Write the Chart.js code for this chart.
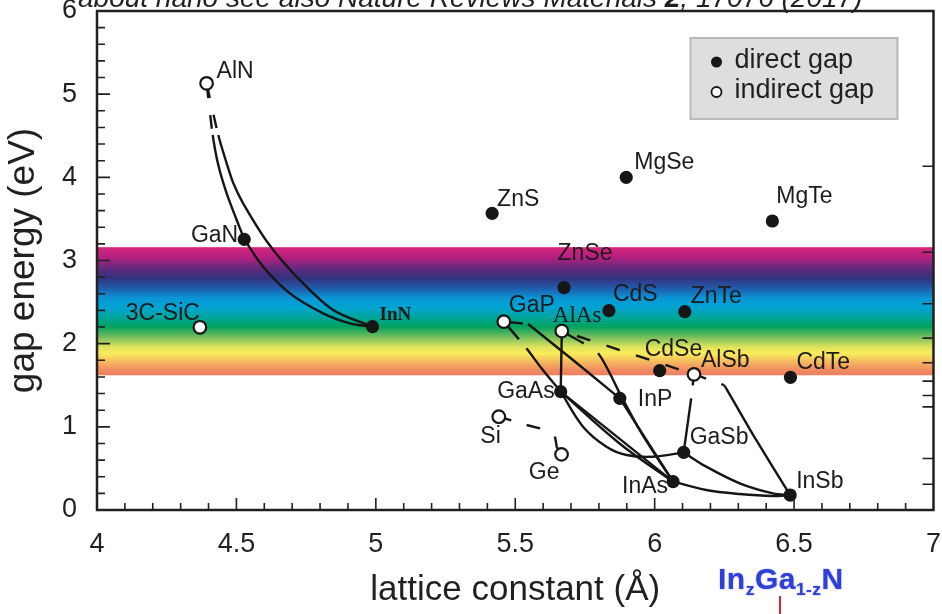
<!DOCTYPE html>
<html>
<head>
<meta charset="utf-8">
<title>Band gap versus lattice constant</title>
<script src="https://cdn.jsdelivr.net/npm/chart.js@4/dist/chart.umd.min.js"></script>
<style>
  html, body { margin: 0; padding: 0; background: #ffffff; }
  #wrap { position: relative; width: 942px; height: 614px; overflow: hidden; }
  #plot { display: block; }
  #note {
    position: absolute; left: 78px; top: -18px; line-height: 28px;
    font: italic 28px "Liberation Sans", Arial, sans-serif; color: #231f20; white-space: nowrap;
  }
  #alloy {
    position: absolute; left: 718px; top: 562px; line-height: 30px; letter-spacing: 0.5px;
    font: bold 30px "Liberation Sans", Arial, sans-serif; color: #2f3fd8; white-space: nowrap;
    text-shadow: 0 0 1.5px rgba(47, 63, 216, 0.7);
  }
  #alloy sub { font-size: 58%; vertical-align: -0.35em; line-height: 0; }
  #arrow {
    position: absolute; left: 779px; top: 596px; width: 2px; height: 22px; background: #e3262b;
  }
</style>
</head>
<body>
<div id="wrap">
  <canvas id="plot" width="942" height="614"></canvas>
  <div id="note">about nano see also Nature Reviews Materials <b>2</b>, 17076 (2017)</div>
  <div id="alloy">In<sub>z</sub>Ga<sub>1-z</sub>N</div>
  <div id="arrow"></div>
</div>
<script>
// ---- binary compounds: lattice constant (Å) and band gap (eV) ----
const compounds = ['AlN', 'GaN', 'InN', '3C-SiC', 'ZnS', 'MgSe', 'MgTe', 'ZnSe', 'CdS', 'ZnTe',
  'GaP', 'AlAs', 'CdSe', 'AlSb', 'CdTe', 'GaAs', 'InP', 'Si', 'Ge', 'GaSb', 'InAs', 'InSb'];
const latticeA = [4.393, 4.528, 4.988, 4.369, 5.417, 5.898, 6.422, 5.675, 5.836, 6.108,
  5.459, 5.667, 6.018, 6.141, 6.487, 5.663, 5.875, 5.441, 5.666, 6.104, 6.066, 6.486];
const gapEV = [5.13, 3.255, 2.204, 2.197, 3.567, 4.00, 3.475, 2.673, 2.397, 2.385,
  2.265, 2.152, 1.675, 1.631, 1.595, 1.423, 1.343, 1.122, 0.669, 0.693, 0.341, 0.180];
const directGap = [false, true, true, false, true, true, true, true, true, true,
  false, false, true, false, true, true, true, false, false, true, true, true];

// visible light window shown as the spectrum band (eV)
const visibleTopEV = 3.16;
const visibleBottomEV = 1.62;
// wavelength marks on the right-hand axis (nm)
const wavelengthTicksNm = [300, 400, 500, 600, 700, 800, 900, 1000, 2000, 4000];

// ---- ternary alloy curves (lattice constant, gap) ----
const alnGanA = [4.393, 4.415, 4.435, 4.465, 4.501, 4.528];
const alnGanE = [5.13, 4.509, 4.148, 3.808, 3.487, 3.255];
const alnInnA = [4.393, 4.435, 4.465, 4.489, 4.524, 4.614, 4.716, 4.847, 4.988];
const alnInnE = [5.13, 4.509, 4.169, 3.928, 3.688, 3.207, 2.805, 2.405, 2.204];
const ganInnA = [4.528, 4.596, 4.692, 4.811, 4.907, 4.988];
const ganInnE = [3.255, 2.925, 2.605, 2.365, 2.245, 2.204];
const gapInpA = [5.459, 5.546, 5.707, 5.875];
const gapInpE = [2.265, 2.236, 1.804, 1.343];
const gapGaasA = [5.459, 5.540, 5.594, 5.663];
const gapGaasE = [2.265, 1.944, 1.704, 1.423];
const gaasGasbA = [5.663, 5.743, 5.827, 5.899, 5.994, 6.104];
const gaasGasbE = [1.423, 1.002, 0.761, 0.661, 0.641, 0.693];
const alasGaasA = [5.667, 5.663];
const alasGaasE = [2.152, 1.423];
const alasAlsbA = [5.667, 6.141];
const alasAlsbE = [2.152, 1.631];
const alasInasA = [5.667, 5.797, 5.881, 5.946, 6.006, 6.066];
const alasInasE = [2.152, 1.884, 1.362, 0.962, 0.641, 0.341];
const inpInasA = [5.875, 6.066];
const inpInasE = [1.343, 0.341];
const gaasInasA = [5.663, 6.066];
const gaasInasE = [1.423, 0.341];
const gaasInas2A = [5.663, 5.874, 6.066];
const gaasInas2E = [1.423, 0.80, 0.341];
const inasInsbA = [6.066, 6.185, 6.305, 6.424, 6.486];
const inasInsbE = [0.341, 0.240, 0.192, 0.168, 0.180];
const gasbInsbA = [6.104, 6.185, 6.305, 6.424, 6.486];
const gasbInsbE = [0.693, 0.521, 0.321, 0.200, 0.180];
const alsbInsbA = [6.141, 6.248, 6.262, 6.364, 6.486];
const alsbInsbE = [1.631, 1.500, 1.430, 0.842, 0.180];
const alsbGasbA = [6.141, 6.131, 6.104];
const alsbGasbE = [1.631, 1.343, 0.693];
const siGeA = [5.441, 5.541, 5.588, 5.642, 5.649, 5.666];
const siGeE = [1.122, 1.022, 0.982, 0.890, 0.757, 0.669];

// ---- styling ----
const INK = '#231f20';
const CURVE = '#161616';
const FONT = '"Liberation Sans", Arial, sans-serif';

// line style per curve: spline tension, dash of the first (indirect) stretch, whole-line dash
const curves = [
  { a: alnGanA, e: alnGanE, tension: 0.3, head: [15, 17, 13.5, 20] },
  { a: alnInnA, e: alnInnE, tension: 0.3, head: [15, 17, 13.5, 20] },
  { a: ganInnA, e: ganInnE, tension: 0.35 },
  { a: gapInpA, e: gapInpE, tension: 0, head: [19, 8] },
  { a: gapGaasA, e: gapGaasE, tension: 0.3, head: [23, 14] },
  { a: gaasGasbA, e: gaasGasbE, tension: 0.35 },
  { a: alasGaasA, e: alasGaasE, tension: 0 },
  { a: alasAlsbA, e: alasAlsbE, tension: 0, dash: [14, 17], dashOffset: 15 },
  { a: alasInasA, e: alasInasE, tension: 0.2, head: [25, 20] },
  { a: inpInasA, e: inpInasE, tension: 0 },
  { a: gaasInasA, e: gaasInasE, tension: 0 },
  { a: gaasInas2A, e: gaasInas2E, tension: 0.4 },
  { a: inasInsbA, e: inasInsbE, tension: 0.35 },
  { a: gasbInsbA, e: gasbInsbE, tension: 0.35 },
  { a: alsbInsbA, e: alsbInsbE, tension: 0.2, head: [13, 16, 5, 10] },
  { a: alsbGasbA, e: alsbGasbE, tension: 0, head: [11, 14] },
  { a: siGeA, e: siGeE, tension: 0, dash: [13, 16, 14, 17, 40] }
];

// label placement relative to each marker (px)
const SANS = '23px ' + FONT;
const labelStyle = {
  'AlN':    { dx: 10, dy: -12, align: 'left' },
  'GaN':    { dx: -6, dy: -4, align: 'right' },
  'InN':    { dx: 7, dy: -12, align: 'left', font: 'bold 19px "Liberation Serif", "Times New Roman", serif' },
  '3C-SiC': { dx: 0, dy: -14, align: 'right' },
  'ZnS':    { dx: 5, dy: -14, align: 'left' },
  'MgSe':   { dx: 8, dy: -15, align: 'left' },
  'MgTe':   { dx: 4, dy: -24, align: 'left' },
  'ZnSe':   { dx: 21, dy: -34, align: 'center' },
  'CdS':    { dx: 4, dy: -16, align: 'left' },
  'ZnTe':   { dx: 6, dy: -15, align: 'left' },
  'GaP':    { dx: 5, dy: -16, align: 'left' },
  'AlAs':   { dx: -9, dy: -15, align: 'left', font: '23px "Liberation Serif", "Times New Roman", serif' },
  'CdSe':   { dx: -15, dy: -21, align: 'left' },
  'AlSb':   { dx: 7, dy: -14, align: 'left' },
  'CdTe':   { dx: 6, dy: -15, align: 'left' },
  'GaAs':   { dx: -6, dy: 0, align: 'right' },
  'InP':    { dx: 18, dy: 1, align: 'left' },
  'Si':     { dx: 2, dy: 20, align: 'right' },
  'Ge':     { dx: -2, dy: 18, align: 'right' },
  'GaSb':   { dx: 6, dy: -15, align: 'left' },
  'InAs':   { dx: -5, dy: 5, align: 'right' },
  'InSb':   { dx: 6, dy: -13, align: 'left' }
};

const toPoints = (a, e) => a.map((v, i) => ({ x: v, y: e[i] }));
const pick = (flag) => compounds.map((_, i) => i).filter(i => directGap[i] === flag)
  .map(i => ({ x: latticeA[i], y: gapEV[i] }));

// spectrum band behind the data
const spectrumBand = {
  id: 'spectrumBand',
  beforeDatasetsDraw(chart) {
    const { ctx, chartArea: ca, scales: { y } } = chart;
    const top = y.getPixelForValue(visibleTopEV);
    const bottom = y.getPixelForValue(visibleBottomEV);
    const g = ctx.createLinearGradient(0, top, 0, bottom);
    [[0.00, '#d6257c'], [0.08, '#b42080'], [0.17, '#5e2b7e'], [0.24, '#35307e'],
     [0.32, '#1f5cab'], [0.40, '#0a96d6'], [0.47, '#00a4d2'], [0.55, '#00a59a'],
     [0.62, '#00a25f'], [0.70, '#74bd5c'], [0.78, '#dfe35c'], [0.83, '#f8ec5b'],
     [0.90, '#f5b45f'], [0.96, '#f08b62'], [1.00, '#ee7d61']]
      .forEach(([o, c]) => g.addColorStop(o, c));
    ctx.save();
    ctx.fillStyle = g;
    ctx.fillRect(ca.left, top, ca.right - ca.left, bottom - top);
    ctx.restore();
  }
};

// compound names next to their markers
const pointLabels = {
  id: 'pointLabels',
  afterDatasetsDraw(chart) {
    const { ctx, scales: { x, y } } = chart;
    ctx.save();
    ctx.fillStyle = '#1d1b1b';
    ctx.textBaseline = 'middle';
    compounds.forEach((name, i) => {
      const s = labelStyle[name];
      ctx.font = s.font || SANS;
      ctx.textAlign = s.align;
      ctx.fillText(name, x.getPixelForValue(latticeA[i]) + s.dx, y.getPixelForValue(gapEV[i]) + s.dy);
    });
    ctx.restore();
  }
};

// boxed frame with inward ticks; right side carries wavelength marks
const frameTicks = {
  id: 'frameTicks',
  afterDatasetsDraw(chart) {
    const { ctx, chartArea: ca, scales: { x, y } } = chart;
    ctx.save();
    ctx.strokeStyle = INK;
    ctx.lineWidth = 1.6;
    ctx.beginPath();
    for (let i = 41; i < 70; i++) {
      const px = x.getPixelForValue(i / 10);
      const len = i % 5 === 0 ? 12 : 7;
      ctx.moveTo(px, ca.bottom); ctx.lineTo(px, ca.bottom - len);
    }
    for (let i = 1; i < 30; i++) {
      const py = y.getPixelForValue(i / 5);
      const len = i % 5 === 0 ? 13 : 8;
      ctx.moveTo(ca.left, py); ctx.lineTo(ca.left + len, py);
    }
    wavelengthTicksNm.forEach(nm => {
      const py = y.getPixelForValue(1239.84 / nm);
      ctx.moveTo(ca.right, py); ctx.lineTo(ca.right - 11, py);
    });
    ctx.stroke();
    ctx.lineWidth = 2.5;
    ctx.strokeRect(ca.left, ca.top, ca.right - ca.left, ca.bottom - ca.top);
    ctx.restore();
  }
};

// grey legend box in the upper right of the plot
const gapLegend = {
  id: 'gapLegend',
  afterDraw(chart) {
    const { ctx, chartArea: ca } = chart;
    const left = ca.right - 243, top = ca.top + 27, w = 207, h = 81;
    ctx.save();
    ctx.fillStyle = '#dedede';
    ctx.strokeStyle = '#b9b9b9';
    ctx.lineWidth = 2;
    ctx.fillRect(left, top, w, h);
    ctx.strokeRect(left, top, w, h);
    const rows = [{ text: 'direct gap', filled: true, dy: 24 }, { text: 'indirect gap', filled: false, dy: 54 }];
    rows.forEach(r => {
      ctx.beginPath();
      ctx.arc(left + 26, top + r.dy, r.filled ? 5.5 : 5, 0, Math.PI * 2);
      ctx.fillStyle = r.filled ? CURVE : '#ffffff';
      ctx.fill();
      if (!r.filled) { ctx.lineWidth = 1.8; ctx.strokeStyle = CURVE; ctx.stroke(); }
      ctx.fillStyle = INK;
      ctx.font = '27px ' + FONT;
      ctx.textAlign = 'left';
      ctx.textBaseline = 'middle';
      ctx.fillText(r.text, left + 44, top + r.dy - 1);
    });
    ctx.restore();
  }
};

const datasets = [
  { label: 'direct gap', data: pick(true), showLine: false, pointRadius: 6.6,
    pointBackgroundColor: CURVE, pointBorderColor: CURVE, pointBorderWidth: 0 },
  { label: 'indirect gap', data: pick(false), showLine: false, pointRadius: 6.3,
    pointBackgroundColor: '#ffffff', pointBorderColor: CURVE, pointBorderWidth: 2.2 }
].concat(curves.map(c => ({
  data: toPoints(c.a, c.e),
  showLine: true, pointRadius: 0, borderColor: CURVE, borderWidth: 2.4,
  tension: c.tension, borderDash: c.dash || [], borderDashOffset: c.dashOffset || 0,
  borderCapStyle: 'butt',
  segment: c.head ? { borderDash: ctx => (ctx.p0DataIndex === 0 ? c.head : undefined) } : {}
})));

new Chart(document.getElementById('plot'), {
  type: 'scatter',
  data: { datasets },
  options: {
    responsive: false,
    animation: false,
    events: [],
    layout: { padding: { top: 11, right: 8, left: 0, bottom: 0 } },
    plugins: { legend: { display: false }, tooltip: { enabled: false } },
    scales: {
      x: {
        type: 'linear', min: 4, max: 7,
        ticks: { stepSize: 0.5, padding: 18, color: INK, callback: v => String(v),
          font: { family: FONT, size: 27 } },
        grid: { display: false, drawTicks: false },
        border: { display: false },
        title: { display: true, text: 'lattice constant (Å)', color: INK, padding: { top: 0, bottom: 3 },
          font: { family: FONT, size: 35 } },
        afterFit: s => { s.height = 104; s.paddingLeft = 0; s.paddingRight = 0; }
      },
      y: {
        type: 'linear', min: 0, max: 6,
        ticks: { stepSize: 1, padding: 20, color: INK, callback: v => String(v),
          font: { family: FONT, size: 27 } },
        grid: { display: false, drawTicks: false },
        border: { display: false },
        title: { display: true, text: 'gap energy (eV)', color: INK, padding: { top: 2, bottom: 0 },
          font: { family: FONT, size: 37 } },
        afterFit: s => { s.width = 97; s.paddingTop = 0; s.paddingBottom = 0; }
      }
    }
  },
  plugins: [spectrumBand, pointLabels, frameTicks, gapLegend]
});
</script>
</body>
</html>
